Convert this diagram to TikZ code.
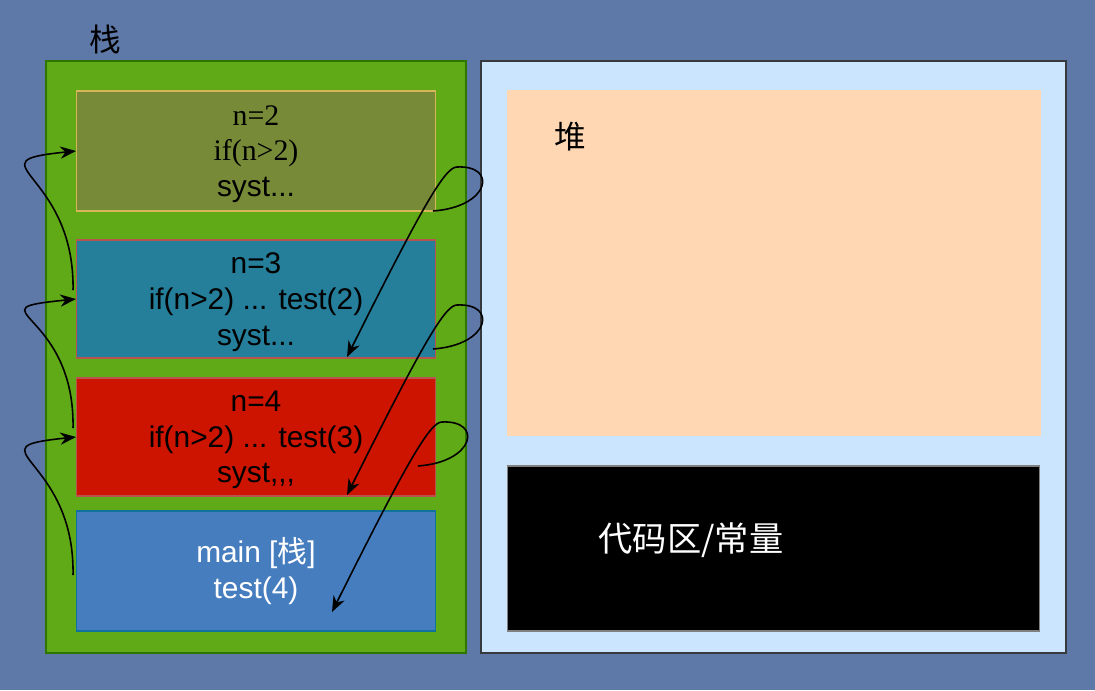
\documentclass[tikz,border=0pt]{standalone}
\usepackage{fontspec}
\setmainfont{Liberation Sans}
\newfontfamily\cjk{Noto Sans CJK SC}
\newfontfamily\romfont{Liberation Serif}
\usetikzlibrary{arrows.meta,calc}

\definecolor{bgblue}{RGB}{94,120,168}
\definecolor{stackgreen}{RGB}{96,169,23}
\definecolor{stackline}{RGB}{45,118,0}
\definecolor{olivebox}{RGB}{118,138,55}
\definecolor{oliveline}{RGB}{214,182,86}
\definecolor{tealbox}{RGB}{37,126,154}
\definecolor{redbox}{RGB}{204,20,0}
\definecolor{redline}{RGB}{184,84,80}
\definecolor{mainbox}{RGB}{70,125,190}
\definecolor{mainline}{RGB}{16,115,158}
\definecolor{areablue}{RGB}{204,229,255}
\definecolor{arealine}{RGB}{54,57,61}
\definecolor{heapbox}{RGB}{255,216,179}

\begin{document}
\begin{tikzpicture}[x=0.02cm,y=-0.02cm,inner sep=0pt,outer sep=0pt,line width=0.9pt,
frame/.style={draw,rectangle,minimum width=7.2cm,minimum height=2.4cm,align=center,line width=0.6pt,
  font=\fontsize{17}{20.3}\selectfont},
call/.style={-{Stealth[length=9pt,width=7pt]}}]
\useasboundingbox (0,0) rectangle (1095,690);
\fill[bgblue] (0,0) rectangle (1095,690);

\draw (256,357) node[draw=stackline,fill=stackgreen,line width=1pt,minimum width=8.4cm,minimum height=11.84cm] (stack) {};
\draw (773.5,357) node[draw=arealine,fill=areablue,line width=1pt,minimum width=11.7cm,minimum height=11.84cm] (area) {};
\draw (105,39) node[font=\fontsize{18}{18}\selectfont\cjk] (stacklbl) {栈};

\draw (256,151) node[frame,draw=oliveline,fill=olivebox,text depth=0pt] (n2) {\romfont n=2\\\romfont if(n>2)\\syst...};
\draw (256,299) node[frame,draw=redline,fill=tealbox,minimum height=2.36cm,text depth=0pt] (n3) {n=3\\if(n>2) ... test(2)\\syst...};
\draw (256,437) node[frame,draw=redline,fill=redbox,minimum height=2.36cm,text depth=0pt] (n4) {n=4\\if(n>2) ... test(3)\\syst,{},{},};
\draw (256,571) node[frame,draw=mainline,fill=mainbox,text=white] (main) {main [{\cjk 栈}]\\test(4)};

\draw (774,263) node[fill=heapbox,minimum width=10.68cm,minimum height=6.92cm] (heap) {};
\draw (570,137) node[font=\fontsize{18}{18}\selectfont\cjk] (heaplbl) {堆};
\draw (773.5,548.5) node[draw=gray,fill=black,line width=0.6pt,minimum width=10.66cm,minimum height=3.3cm] (code) {};
\draw (691,540) node[text=white,font=\fontsize{19.5}{19.5}\selectfont\cjk] (codelbl) {代码区/常量};

% returns on the left
\draw[call] ($(n3.west)+(-3,-9)$) .. controls +(2,-120) and +(-108,11) .. (n2.west);
\draw[call] ($(n4.west)+(-3,-9)$) .. controls +(2,-120) and +(-108,11) .. (n3.west);
\draw[call] ($(main.west)+(-3,4)$) .. controls +(2,-120) and +(-108,11) .. (n4.west);

% calls on the right
\draw[call] ($(n2.south east)+(-3,0)$) .. controls +(57,-4) and +(41,-2) .. ++(24,-44)
  .. controls +(-12,0) and +(75,-150) .. ($(n3.south)+(91,-1)$);
\draw[call] ($(n3.south east)+(-3,-9)$) .. controls +(57,-4) and +(41,-2) .. ++(24,-44)
  .. controls +(-12,0) and +(75,-150) .. ($(n4.south)+(91,-1)$);
\draw[call] ($(n4.south east)+(-18,-30)$) .. controls +(57,-4) and +(41,-2) .. ++(24,-44)
  .. controls +(-12,0) and +(75,-150) .. ($(main.south)+(76,-19)$);
\end{tikzpicture}
\end{document}
